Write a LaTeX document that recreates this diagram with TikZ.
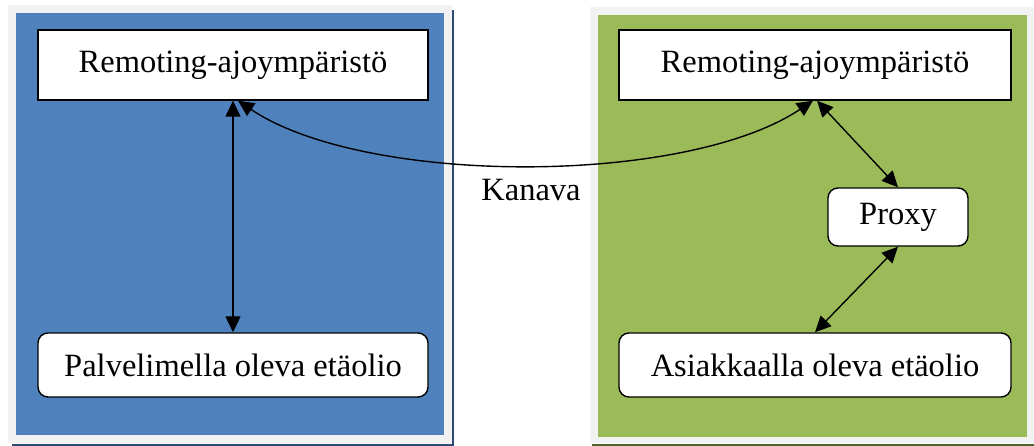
\documentclass[tikz,border=0pt]{standalone}
\usepackage{fontspec}
\setmainfont{Liberation Serif}
\usetikzlibrary{arrows.meta}
\definecolor{panelgray}{HTML}{F2F2F2}
\definecolor{serverblue}{HTML}{4F81BD}
\definecolor{servershadow}{HTML}{2C4A72}
\definecolor{clientgreen}{HTML}{9BBB59}
\definecolor{clientshadow}{HTML}{4F6228}
\tikzset{
  box/.style={draw=black, line width=1.4pt, fill=white, inner sep=0pt,
    font=\fontsize{32.5}{38}\selectfont},
  roundbox/.style={box, rounded corners=10pt},
  link/.style={line width=1.4pt, {Triangle[length=16pt,width=15pt]}-{Triangle[length=16pt,width=15pt]}},
}
\begin{document}
\begin{tikzpicture}[x=1pt, y=-1pt]
\useasboundingbox (0,0) rectangle (1034,446);
% server side panel
\fill[panelgray] (8,5) rectangle (452,443);
\fill[serverblue] (16,13) rectangle (444,435);
\draw[servershadow, line width=2pt] (12,445) -- (453,445) -- (453,10);
% client side panel
\fill[panelgray] (590,7) rectangle (1034,443);
\fill[clientgreen] (598,15) rectangle (1027,437);
\draw[clientshadow, line width=2pt] (592,445) -- (1034,445);

% nodes
\node[box, minimum width=390pt, minimum height=70pt] (lt) at (233,65) {Remoting-ajoympäristö};
\node[roundbox, minimum width=390pt, minimum height=64pt] (lb) at (233,365) {Palvelimella oleva etäolio};
\node[box, minimum width=392pt, minimum height=70pt] (rt) at (815,65) {Remoting-ajoympäristö};
\node[roundbox, minimum width=140pt, minimum height=58pt] (px) at (898,217) {Proxy};
\node[roundbox, minimum width=392pt, minimum height=64pt] (rb) at (815,365) {Asiakkaalla oleva etäolio};
\node[font=\fontsize{32.5}{38}\selectfont] (ch) at (531,190) {Kanava};

% connectors
\draw[link] (lt.south) -- (lb.north);
\draw[link] ([xshift=5pt]lt.south) .. controls (365,186) and (685,186) .. ([xshift=-2pt]rt.south);
\draw[link] ([xshift=2pt]rt.south) -- (px.north);
\draw[link] (px.south) -- (rb.north);
\end{tikzpicture}
\end{document}
